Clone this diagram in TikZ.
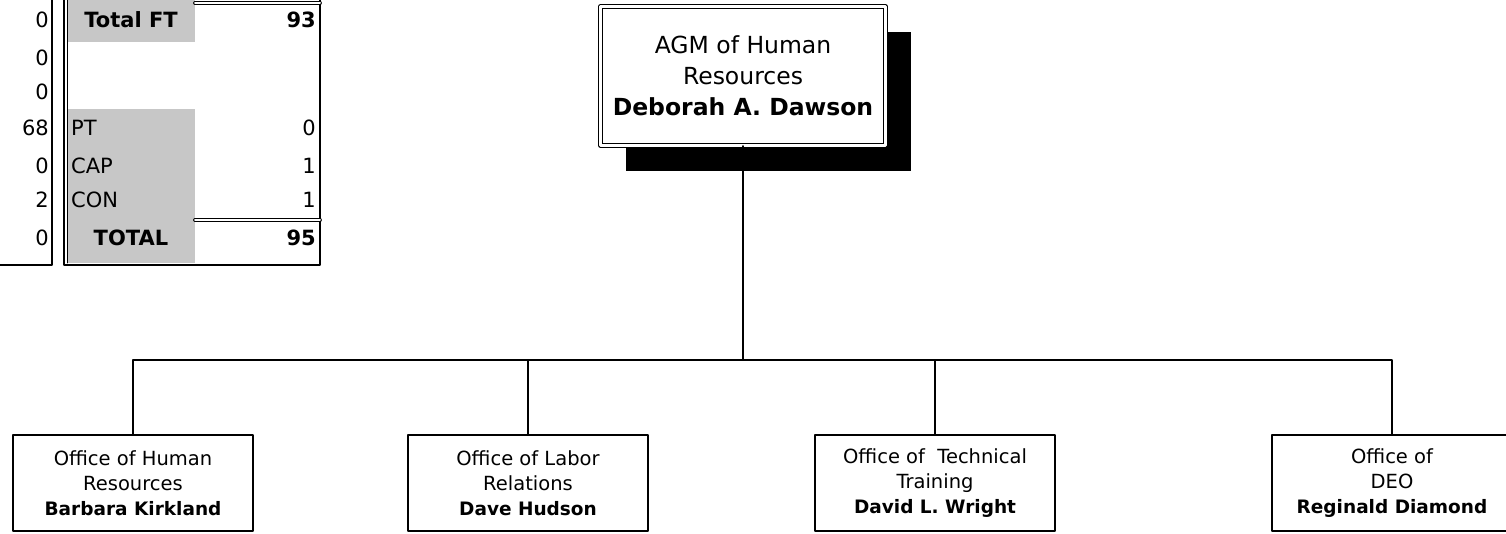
\documentclass[tikz,border=0pt]{standalone}
\usepackage{fontspec}
\setmainfont{DejaVu Sans}
\usetikzlibrary{positioning,shadows}
\newcommand{\boss}[1]{{\fontsize{18.5}{25}\selectfont\textbf{#1}}}
\begin{document}
\begin{tikzpicture}[x=1pt, y=-1pt, line join=round, line cap=round]
	\tikzset{
		office/.style={draw, line width=1.4pt, fill=white, minimum width=240pt, minimum height=96pt, inner sep=0pt, align=center, font=\fontsize{19.5}{25}\selectfont},
		agmbox/.style={draw, double, double distance=2.5pt, line width=0.9pt, fill=white, minimum width=285pt, minimum height=139pt, inner sep=0pt, align=center, font=\fontsize{23.5}{31}\selectfont,
			drop shadow={shadow xshift=25pt, shadow yshift=-25pt, fill=black, opacity=1}},
		link/.style={line width=1.6pt},
		cell/.style={inner sep=0pt, font=\fontsize{21}{24}\selectfont},
		shade/.style={fill=black!22},
		rule/.style={line width=1.3pt},
		twin/.style={double, double distance=2pt, line width=0.9pt},
	}
	\def \xmin{0}
	\def \xmax{1506}
	\def \ymin{0}
	\def \ymax{533}
	\useasboundingbox (\xmin,\ymin) rectangle (\xmax,\ymax);
	\clip (\xmin,\ymin) rectangle (\xmax,\ymax);
	
	% head count table
	\fill[shade] (68,-5) rectangle (195,42);
	\fill[shade] (68,109) rectangle (195,263);
	\draw[rule] (52,-5) -- (52,265) -- (-5,265);
	\draw[rule] (64,-5) -- (64,265) -- (320,265) -- (320,-5);
	\draw[line width=0.8pt] (67.5,-5) -- (67.5,263);
	\draw[twin] (195,3) -- (320,3);
	\draw[twin] (195,220) -- (320,220);
	
	\node[cell] (totft) at (131,20) {\textbf{Total FT}};
	\node[cell, anchor=east] (totftnum) at (316,20) {\textbf{93}};
	\foreach \n/\y/\l/\r in {pt/128/PT/0, cap/166/CAP/1, con/200/CON/1}
	{
		\node[cell, anchor=west] (\n) at (71,\y) {\l};
		\node[cell, anchor=east] (\n num) at (316,\y) {\r};
	}
	\node[cell] (total) at (131,238) {\textbf{TOTAL}};
	\node[cell, anchor=east] (totalnum) at (316,238) {\textbf{95}};
	\foreach \v/\y [count=\i] in {0/20,0/58,0/92,68/128,0/166,2/200,0/238}
		\node[cell, anchor=east] (left\i) at (49,\y) {\v};
	
	% chart
	\node[agmbox] (agm) at (743,76) {AGM of Human\\Resources\\\textbf{Deborah A. Dawson}};
	\foreach \n/\x/\t/\p in {ohr/133/Office of Human\\Resources/Barbara Kirkland,
		olr/528/Office of Labor\\Relations/Dave Hudson,
		ott/935/Office of~ Technical\\Training/David L. Wright,
		deo/1392/Office of\\DEO/Reginald Diamond}
		\node[office] (\n) at (\x,483) {\t\\\boss{\p}};
	
	\coordinate (bus) at (agm.south |- 0,360);
	\draw[link] (agm.south) -- (bus);
	\draw[link] (ohr.north) |- (bus) -| (deo.north);
	\foreach \n in {olr,ott} \draw[link] (\n.north) -- (\n.north |- bus);
\end{tikzpicture}
\end{document}
